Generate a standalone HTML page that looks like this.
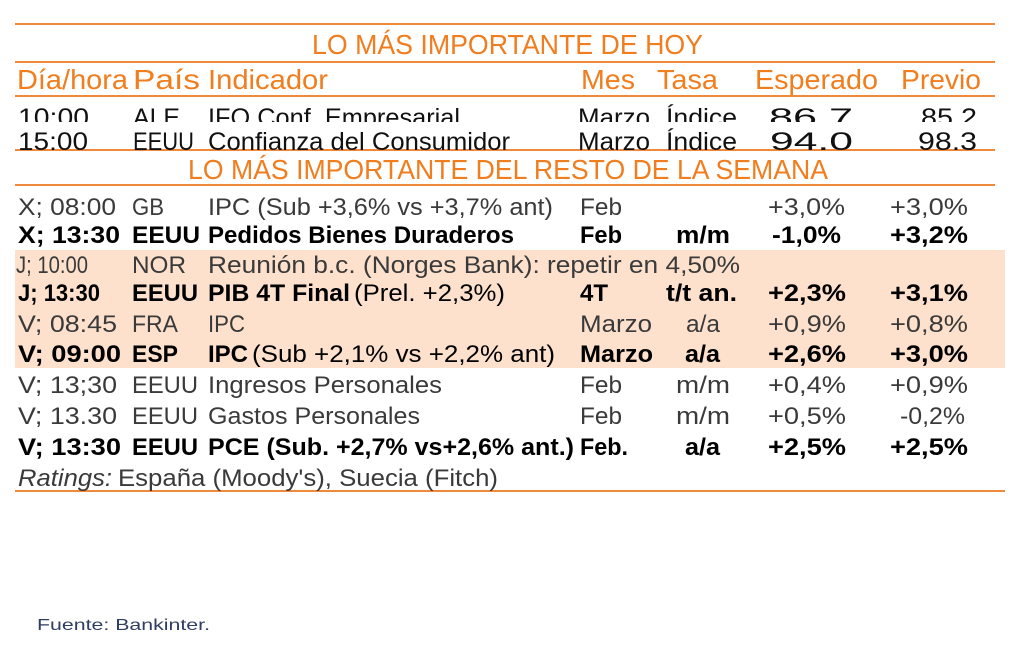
<!DOCTYPE html>
<html><head><meta charset="utf-8"><style>
html,body{margin:0;padding:0;background:#fff;width:1024px;height:645px;overflow:hidden}
svg{display:block}
text{font-family:"Liberation Sans Narrow","Liberation Sans",sans-serif}
.o{fill:#f07d1e}
.n{fill:#3a3a3a;font-size:24px}
.b{fill:#000;font-size:24px;font-weight:bold}
.t{fill:#111;font-size:25px}
</style></head><body>
<svg width="1024" height="645" viewBox="0 0 1024 645" xmlns="http://www.w3.org/2000/svg" lengthAdjust="spacingAndGlyphs">
<defs>
<clipPath id="c1"><rect x="0" y="97" width="1024" height="25"/></clipPath>
<clipPath id="c2"><rect x="0" y="124" width="1024" height="26"/></clipPath>
<clipPath id="c3"><rect x="0" y="255" width="1024" height="30"/></clipPath>
</defs>
<rect x="15" y="250" width="990" height="118" fill="#fde1cd"/>
<g stroke="#f08a3a" stroke-width="2">
<line x1="15" y1="24" x2="995" y2="24"/>
<line x1="15" y1="62" x2="995" y2="62"/>
<line x1="15" y1="96" x2="995" y2="96"/>
<line x1="15" y1="150" x2="995" y2="150"/>
<line x1="15" y1="185" x2="995" y2="185"/>
<line x1="15" y1="491" x2="1005" y2="491"/>
</g>
<g class="o" font-size="28">
<text x="312" y="54" textLength="391" lengthAdjust="spacingAndGlyphs">LO MÁS IMPORTANTE DE HOY</text>
<text x="188" y="179" textLength="640" lengthAdjust="spacingAndGlyphs">LO MÁS IMPORTANTE DEL RESTO DE LA SEMANA</text>
<text x="17" y="89" textLength="111" lengthAdjust="spacingAndGlyphs">Día/hora</text>
<text x="133" y="89" textLength="67" lengthAdjust="spacingAndGlyphs">País</text>
<text x="208" y="89" textLength="120" lengthAdjust="spacingAndGlyphs">Indicador</text>
<text x="581" y="89" textLength="54" lengthAdjust="spacingAndGlyphs">Mes</text>
<text x="657" y="89" textLength="61" lengthAdjust="spacingAndGlyphs">Tasa</text>
<text x="755" y="89" textLength="123" lengthAdjust="spacingAndGlyphs">Esperado</text>
<text x="901" y="89" textLength="80" lengthAdjust="spacingAndGlyphs">Previo</text>
</g>
<g class="t" clip-path="url(#c1)">
<text x="18" y="126" textLength="71" lengthAdjust="spacingAndGlyphs">10:00</text>
<text x="133" y="126" textLength="47" lengthAdjust="spacingAndGlyphs">ALE</text>
<text x="208" y="126" textLength="252" lengthAdjust="spacingAndGlyphs">IFO Conf. Empresarial</text>
<text x="578" y="126" textLength="72" lengthAdjust="spacingAndGlyphs">Marzo</text>
<text x="666" y="126" textLength="71" lengthAdjust="spacingAndGlyphs">Índice</text>
<text x="769" y="126" textLength="84" lengthAdjust="spacingAndGlyphs">86.7</text>
<text x="921" y="126" textLength="56" lengthAdjust="spacingAndGlyphs">85.2</text>
</g>
<g class="t" clip-path="url(#c2)">
<text x="18" y="150" textLength="70" lengthAdjust="spacingAndGlyphs">15:00</text>
<text x="133" y="150" textLength="61" lengthAdjust="spacingAndGlyphs">EEUU</text>
<text x="208" y="150" textLength="302" lengthAdjust="spacingAndGlyphs">Confianza del Consumidor</text>
<text x="578" y="150" textLength="72" lengthAdjust="spacingAndGlyphs">Marzo</text>
<text x="666" y="150" textLength="71" lengthAdjust="spacingAndGlyphs">Índice</text>
<text x="770" y="150" textLength="83" lengthAdjust="spacingAndGlyphs">94.0</text>
<text x="918" y="150" textLength="59" lengthAdjust="spacingAndGlyphs">98.3</text>
</g>
<g class="n">
<text x="18" y="215" textLength="98" lengthAdjust="spacingAndGlyphs">X; 08:00</text>
<text x="132" y="215" textLength="32" lengthAdjust="spacingAndGlyphs">GB</text>
<text x="208" y="215" textLength="345" lengthAdjust="spacingAndGlyphs">IPC (Sub +3,6% vs +3,7% ant)</text>
<text x="580" y="215" textLength="42" lengthAdjust="spacingAndGlyphs">Feb</text>
<text x="768" y="215" textLength="77" lengthAdjust="spacingAndGlyphs">+3,0%</text>
<text x="890" y="215" textLength="78" lengthAdjust="spacingAndGlyphs">+3,0%</text>
</g>
<g class="b">
<text x="18" y="243" textLength="102" lengthAdjust="spacingAndGlyphs">X; 13:30</text>
<text x="132" y="243" textLength="68" lengthAdjust="spacingAndGlyphs">EEUU</text>
<text x="208" y="243" textLength="306" lengthAdjust="spacingAndGlyphs">Pedidos Bienes Duraderos</text>
<text x="580" y="243" textLength="42" lengthAdjust="spacingAndGlyphs">Feb</text>
<text x="676" y="243" textLength="54" lengthAdjust="spacingAndGlyphs">m/m</text>
<text x="772" y="243" textLength="69" lengthAdjust="spacingAndGlyphs">-1,0%</text>
<text x="890" y="243" textLength="78" lengthAdjust="spacingAndGlyphs">+3,2%</text>
</g>
<g class="n" clip-path="url(#c3)">
<text x="16" y="273" textLength="72" lengthAdjust="spacingAndGlyphs">J; 10:00</text>
<text x="132" y="273" textLength="54" lengthAdjust="spacingAndGlyphs">NOR</text>
<text x="208" y="273" textLength="532" lengthAdjust="spacingAndGlyphs">Reunión b.c. (Norges Bank): repetir en 4,50%</text>
</g>
<g class="b">
<text x="18" y="301" textLength="82" lengthAdjust="spacingAndGlyphs">J; 13:30</text>
<text x="132" y="301" textLength="66" lengthAdjust="spacingAndGlyphs">EEUU</text>
<text x="208" y="301" textLength="142" lengthAdjust="spacingAndGlyphs">PIB 4T Final</text>
<text x="354" y="301" textLength="151" lengthAdjust="spacingAndGlyphs" font-weight="normal">(Prel. +2,3%)</text>
<text x="580" y="301" textLength="28" lengthAdjust="spacingAndGlyphs">4T</text>
<text x="666" y="301" textLength="71" lengthAdjust="spacingAndGlyphs">t/t an.</text>
<text x="768" y="301" textLength="78" lengthAdjust="spacingAndGlyphs">+2,3%</text>
<text x="890" y="301" textLength="78" lengthAdjust="spacingAndGlyphs">+3,1%</text>
</g>
<g class="n">
<text x="18" y="332" textLength="99" lengthAdjust="spacingAndGlyphs">V; 08:45</text>
<text x="132" y="332" textLength="46" lengthAdjust="spacingAndGlyphs">FRA</text>
<text x="208" y="332" textLength="37" lengthAdjust="spacingAndGlyphs">IPC</text>
<text x="580" y="332" textLength="72" lengthAdjust="spacingAndGlyphs">Marzo</text>
<text x="686" y="332" textLength="34" lengthAdjust="spacingAndGlyphs">a/a</text>
<text x="768" y="332" textLength="78" lengthAdjust="spacingAndGlyphs">+0,9%</text>
<text x="890" y="332" textLength="78" lengthAdjust="spacingAndGlyphs">+0,8%</text>
</g>
<g class="b">
<text x="18" y="362" textLength="103" lengthAdjust="spacingAndGlyphs">V; 09:00</text>
<text x="132" y="362" textLength="46" lengthAdjust="spacingAndGlyphs">ESP</text>
<text x="208" y="362" textLength="40" lengthAdjust="spacingAndGlyphs">IPC</text>
<text x="252" y="362" textLength="303" lengthAdjust="spacingAndGlyphs" font-weight="normal">(Sub +2,1% vs +2,2% ant)</text>
<text x="580" y="362" textLength="73" lengthAdjust="spacingAndGlyphs">Marzo</text>
<text x="685" y="362" textLength="35" lengthAdjust="spacingAndGlyphs">a/a</text>
<text x="768" y="362" textLength="78" lengthAdjust="spacingAndGlyphs">+2,6%</text>
<text x="890" y="362" textLength="78" lengthAdjust="spacingAndGlyphs">+3,0%</text>
</g>
<g class="n">
<text x="18" y="393" textLength="99" lengthAdjust="spacingAndGlyphs">V; 13;30</text>
<text x="132" y="393" textLength="66" lengthAdjust="spacingAndGlyphs">EEUU</text>
<text x="208" y="393" textLength="234" lengthAdjust="spacingAndGlyphs">Ingresos Personales</text>
<text x="580" y="393" textLength="42" lengthAdjust="spacingAndGlyphs">Feb</text>
<text x="676" y="393" textLength="54" lengthAdjust="spacingAndGlyphs">m/m</text>
<text x="768" y="393" textLength="78" lengthAdjust="spacingAndGlyphs">+0,4%</text>
<text x="890" y="393" textLength="78" lengthAdjust="spacingAndGlyphs">+0,9%</text>
<text x="18" y="424" textLength="99" lengthAdjust="spacingAndGlyphs">V; 13.30</text>
<text x="132" y="424" textLength="66" lengthAdjust="spacingAndGlyphs">EEUU</text>
<text x="208" y="424" textLength="212" lengthAdjust="spacingAndGlyphs">Gastos Personales</text>
<text x="580" y="424" textLength="42" lengthAdjust="spacingAndGlyphs">Feb</text>
<text x="676" y="424" textLength="54" lengthAdjust="spacingAndGlyphs">m/m</text>
<text x="768" y="424" textLength="78" lengthAdjust="spacingAndGlyphs">+0,5%</text>
<text x="900" y="424" textLength="65" lengthAdjust="spacingAndGlyphs">-0,2%</text>
</g>
<g class="b">
<text x="18" y="455" textLength="103" lengthAdjust="spacingAndGlyphs">V; 13:30</text>
<text x="132" y="455" textLength="66" lengthAdjust="spacingAndGlyphs">EEUU</text>
<text x="208" y="455" textLength="366" lengthAdjust="spacingAndGlyphs">PCE (Sub. +2,7% vs+2,6% ant.)</text>
<text x="580" y="455" textLength="48" lengthAdjust="spacingAndGlyphs">Feb.</text>
<text x="685" y="455" textLength="35" lengthAdjust="spacingAndGlyphs">a/a</text>
<text x="768" y="455" textLength="78" lengthAdjust="spacingAndGlyphs">+2,5%</text>
<text x="890" y="455" textLength="78" lengthAdjust="spacingAndGlyphs">+2,5%</text>
</g>
<g class="n">
<text x="18" y="486" textLength="94" lengthAdjust="spacingAndGlyphs" font-style="italic">Ratings:</text>
<text x="118" y="486" textLength="380" lengthAdjust="spacingAndGlyphs">España (Moody's), Suecia (Fitch)</text>
</g>
<text x="37" y="630" font-family="Liberation Sans, sans-serif" font-size="16" fill="#2e3d62" textLength="173" lengthAdjust="spacingAndGlyphs">Fuente: Bankinter.</text>
</svg>
</body></html>
